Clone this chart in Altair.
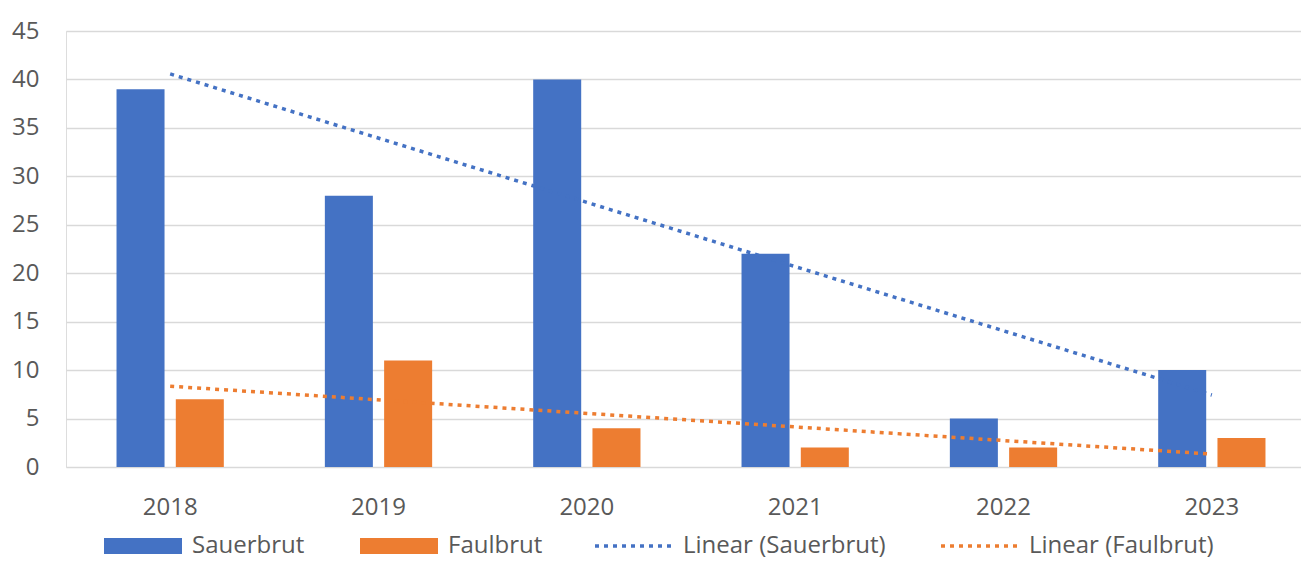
import altair as alt
import pandas as pd

years = [2018, 2019, 2020, 2021, 2022, 2023]
sauerbrut = [39, 28, 40, 22, 5, 10]
faulbrut = [7, 11, 4, 2, 2, 3]
series_names = ["Sauerbrut", "Faulbrut"]
trend_names = ["Linear (Sauerbrut)", "Linear (Faulbrut)"]

BLUE = "#4472C4"
ORANGE = "#ED7D31"
TEXT = "#595959"
GRID = "#D9D9D9"
FONT = "Open Sans"

rows = []
for y, s, f in zip(years, sauerbrut, faulbrut):
    rows.append({"year": y, "series": "Sauerbrut", "value": s})
    rows.append({"year": y, "series": "Faulbrut", "value": f})
df = pd.DataFrame(rows)

common_legend = dict(
    title=None,
    orient="none",
    direction="horizontal",
    symbolSize=100,
    labelOffset=37,
    labelFont=FONT,
    labelFontSize=24,
    labelColor=TEXT,
    labelLimit=400,
    symbolOpacity=1,
)

bar_legend = alt.Legend(
    legendX=65, legendY=503,
    columnPadding=55,
    symbolType="M-7.8,-1.6H7.8V1.6H-7.8Z",
    symbolStrokeWidth=0,
    **common_legend,
)
line_legend = alt.Legend(
    legendX=556, legendY=503,
    columnPadding=48,
    symbolType="M-7.8,0H7.8",
    symbolDash=[4, 5],
    symbolStrokeWidth=3.5,
    symbolFillColor="transparent",
    **common_legend,
)

x = alt.X(
    "year:O",
    scale=alt.Scale(paddingInner=0.485, paddingOuter=0.2425, range=[0, 1250]),
    axis=alt.Axis(title=None, domain=False, ticks=False, labelAngle=0, labelPadding=28,
                  labelFont=FONT, labelFontSize=24, labelColor=TEXT, grid=False),
)
y = alt.Y(
    "value:Q",
    scale=alt.Scale(domain=[0, 45], nice=False),
    axis=alt.Axis(title=None, domain=False, ticks=False, values=list(range(0, 50, 5)),
                  labelPadding=27, labelFont=FONT, labelFontSize=24, labelColor=TEXT,
                  grid=True, gridColor=GRID, gridWidth=1.5),
)

bars = alt.Chart(df).mark_bar().encode(
    x=x,
    y=y,
    xOffset=alt.XOffset("series:N", sort=series_names,
                        scale=alt.Scale(paddingInner=0.19, paddingOuter=0)),
    fill=alt.Fill("series:N", scale=alt.Scale(domain=series_names, range=[BLUE, ORANGE]),
                  legend=bar_legend),
)

trend = alt.Chart(df).transform_regression(
    "year", "value", groupby=["series"]
).transform_calculate(
    label="'Linear (' + datum.series + ')'"
).mark_line(strokeDash=[4, 5], strokeWidth=3.5).encode(
    x=alt.X("year:O"),
    y=alt.Y("value:Q"),
    stroke=alt.Stroke("label:N", scale=alt.Scale(domain=trend_names, range=[BLUE, ORANGE]),
                      legend=line_legend),
    detail="series:N",
)

chart = alt.layer(bars, trend).properties(
    width=1235,
    height=436,
    autosize=alt.AutoSizeParams(type="none"),
    padding={"left": 58, "top": 23, "right": 0, "bottom": 94},
).configure_view(stroke=None).configure(font=FONT)

chart.save("out.html", embed_options={"renderer": "svg", "actions": False})
